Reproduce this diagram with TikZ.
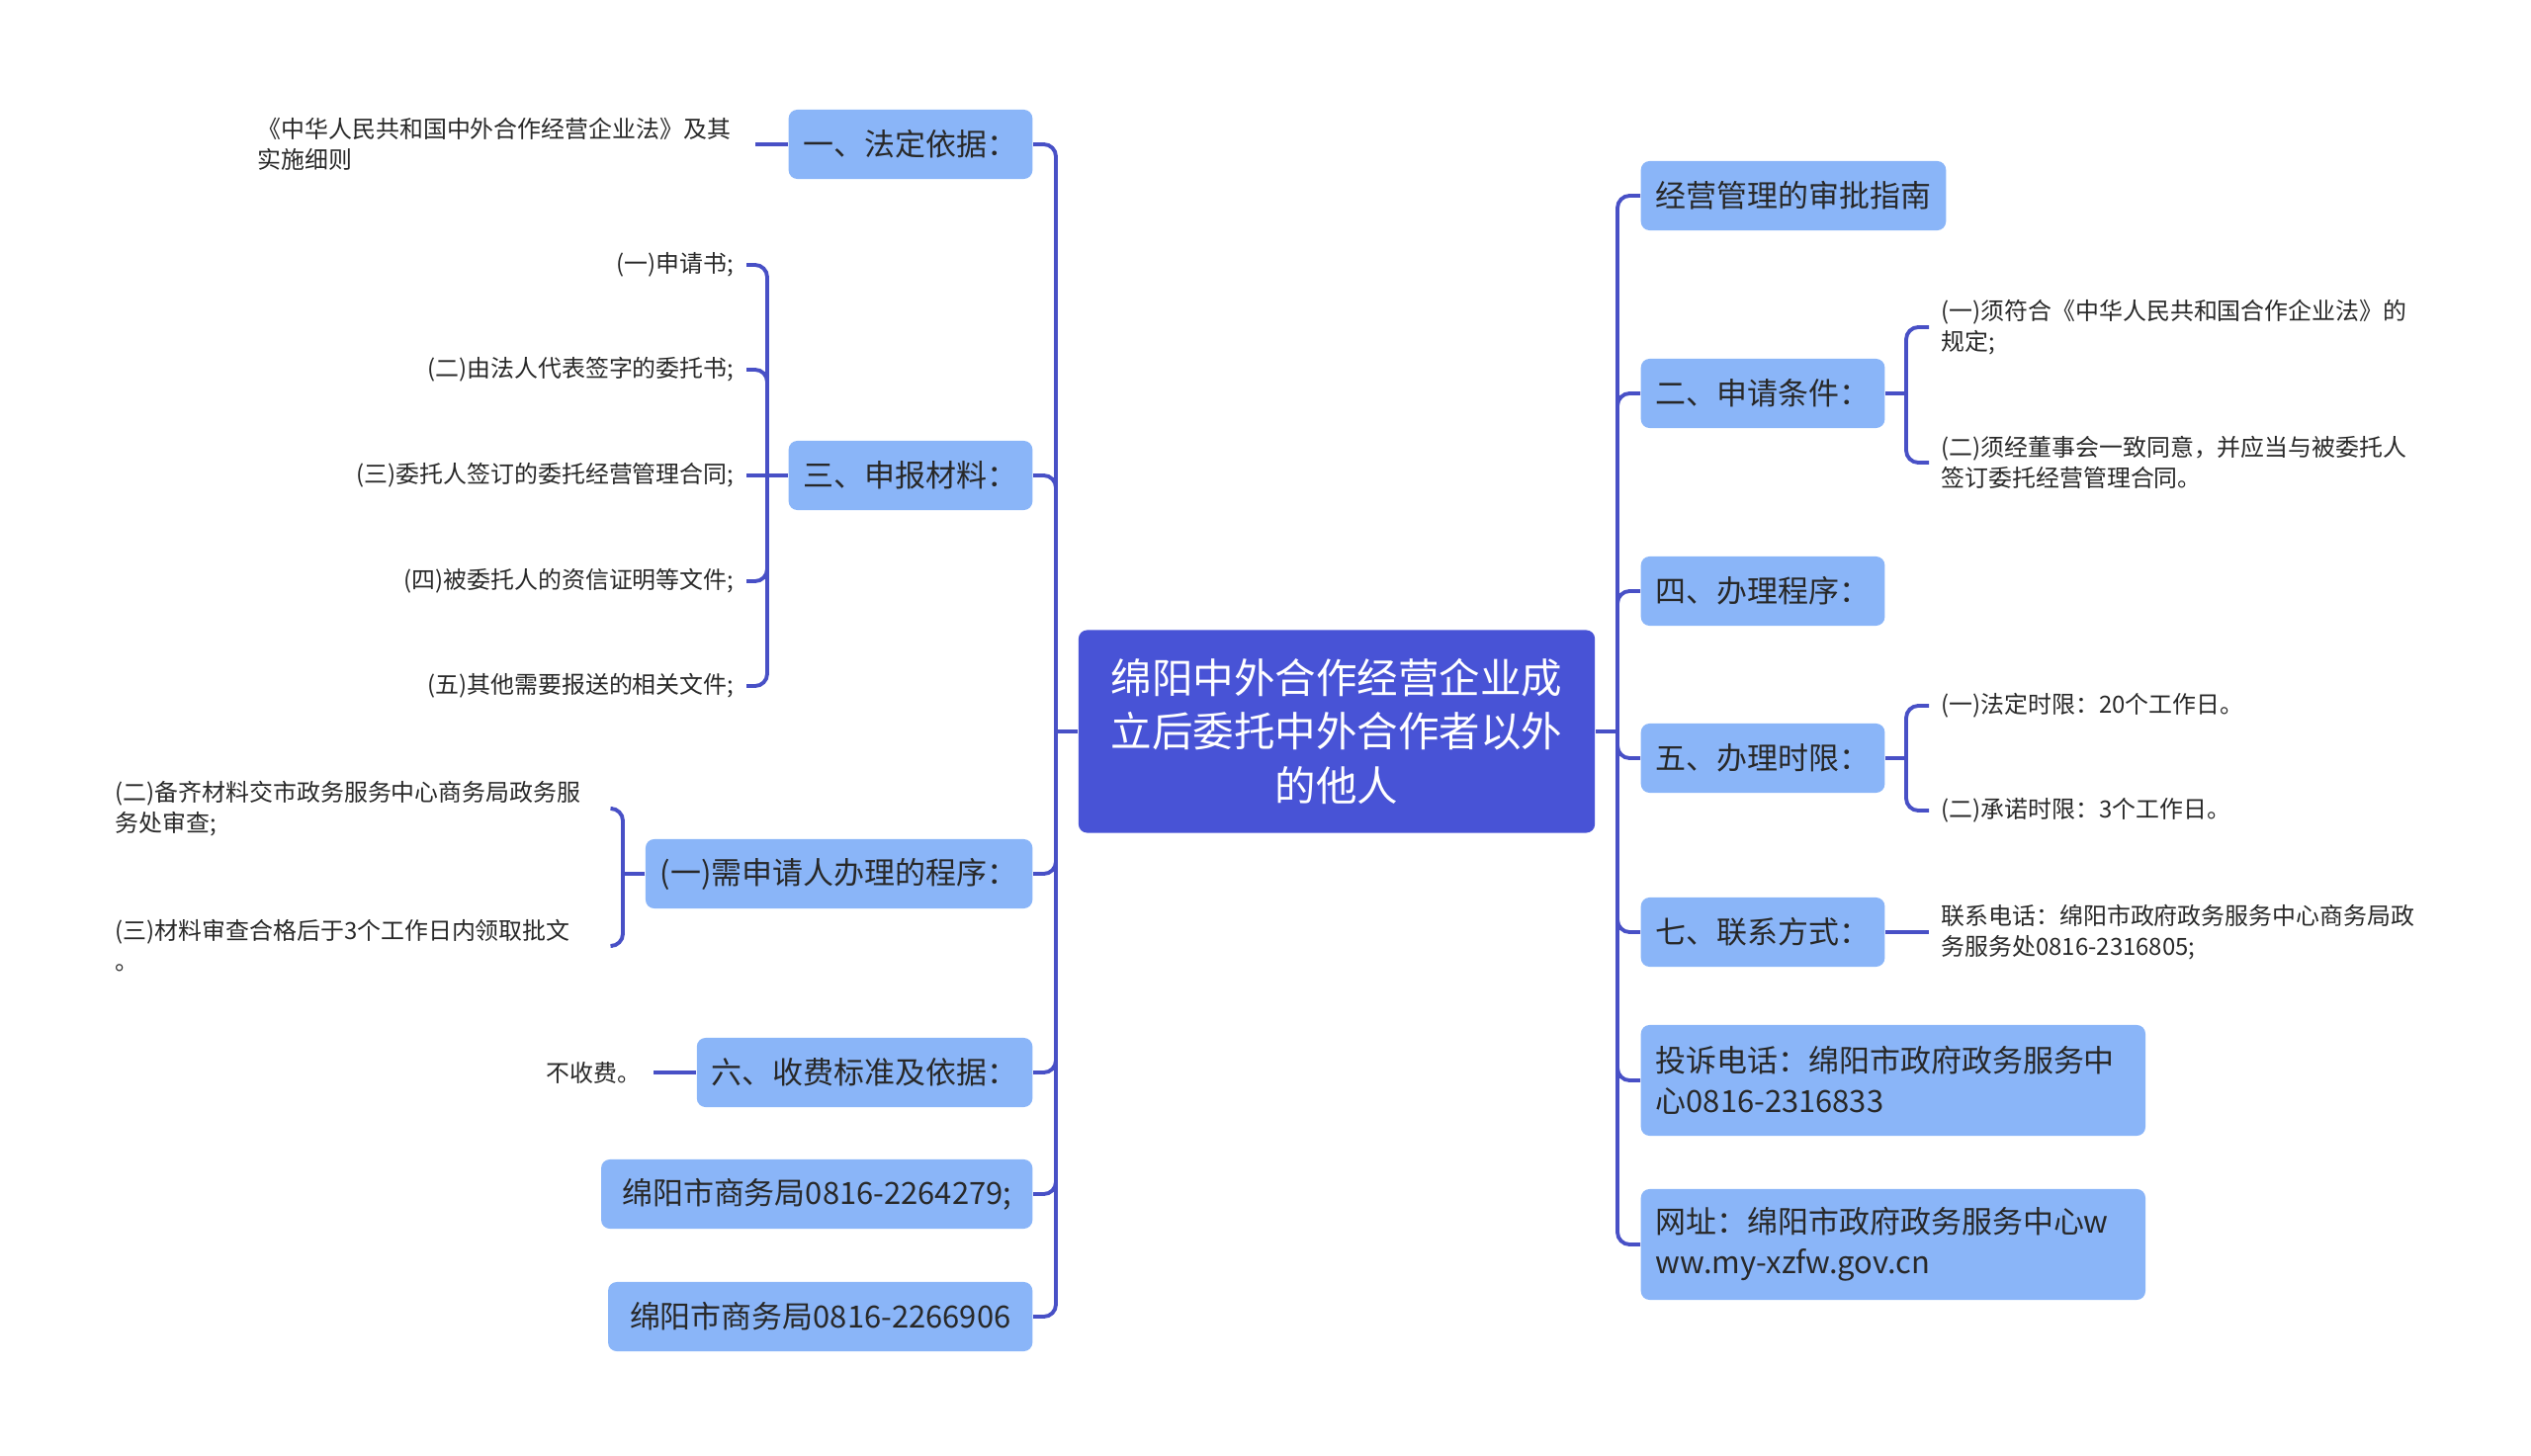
\documentclass[tikz,border=0pt]{standalone}
\usepackage{fontspec}
\setmainfont{Noto Sans CJK SC}
\usepackage{tikz}

\definecolor{rootblue}{RGB}{72,83,214}
\definecolor{topicblue}{RGB}{138,181,248}
\definecolor{linkblue}{RGB}{72,80,198}
\definecolor{inktext}{RGB}{40,40,40}

\begin{document}
\begin{tikzpicture}[x=0.01cm, y=-0.01cm,
    root/.style={fill=rootblue, rounded corners=2.5pt, text=white, align=center,
        minimum width=5.22cm, minimum height=2.05cm,
        font=\fontsize{11.8}{15.6}\selectfont},
    topic/.style={fill=topicblue, rounded corners=2.5pt, text=inktext, align=left,
        inner xsep=0.15cm, minimum height=0.7cm,
        font=\fontsize{8.8}{11.6}\selectfont},
    bigtopic/.style={topic, text width=4.8cm, minimum height=1.12cm},
    leaf/.style={text=inktext, inner xsep=0.12cm, inner ysep=0pt, align=left,
        font=\fontsize{6.8}{8.8}\selectfont},
    note/.style={leaf, text width=4.9cm},
    link/.style={linkblue, line width=1.1pt, rounded corners=3.5pt}]

    \useasboundingbox (0,0) rectangle (2560,1473);

    % Root
    \node[root] (root) at (1352,740) {绵阳中外合作经营企业成\\立后委托中外合作者以外\\的他人};
    \coordinate (jL) at (1068,740);
    \coordinate (jR) at (1636,740);
    \draw[link] (root.west) -- (jL);
    \draw[link] (root.east) -- (jR);

    % Left topics
    \node[topic, anchor=east] (basis) at (1045,146) {一、法定依据：};
    \node[topic, anchor=east] (materials) at (1045,481) {三、申报材料：};
    \node[topic, anchor=east] (steps) at (1045,884) {(一)需申请人办理的程序：};
    \node[topic, anchor=east] (fees) at (1045,1085) {六、收费标准及依据：};
    \node[topic, anchor=east, minimum width=4.36cm] (telA) at (1045,1208) {绵阳市商务局0816-2264279;};
    \node[topic, anchor=east, minimum width=4.29cm] (telB) at (1045,1332) {绵阳市商务局0816-2266906};
    \foreach \n in {basis, materials, steps, fees, telA, telB}
        \draw[link] (jL) |- (\n.east);

    % Right topics
    \node[topic, anchor=west] (guide) at (1659,198) {经营管理的审批指南};
    \node[topic, anchor=west] (terms) at (1659,398) {二、申请条件：};
    \node[topic, anchor=west] (process) at (1659,598) {四、办理程序：};
    \node[topic, anchor=west] (limits) at (1659,767) {五、办理时限：};
    \node[topic, anchor=west] (contact) at (1659,943) {七、联系方式：};
    \node[bigtopic, anchor=west] (complain) at (1659,1093) {投诉电话：绵阳市政府政务服务中\\心0816-2316833};
    \node[bigtopic, anchor=west] (website) at (1659,1259) {网址：绵阳市政府政务服务中心w\\ww.my-xzfw.gov.cn};
    \foreach \n in {guide, terms, process, limits, contact, complain, website}
        \draw[link] (jR) |- (\n.west);

    % Basis
    \node[note, anchor=west] (basisnote) at (248,146) {《中华人民共和国中外合作经营企业法》及其\\实施细则};
    \draw[link] (basis.west) -- (basisnote.east);

    % Materials
    \coordinate (jMat) at (776,481);
    \node[leaf, anchor=east] (matA) at (755,268) {(一)申请书;};
    \node[leaf, anchor=east] (matB) at (755,374) {(二)由法人代表签字的委托书;};
    \node[leaf, anchor=east] (matC) at (755,481) {(三)委托人签订的委托经营管理合同;};
    \node[leaf, anchor=east] (matD) at (755,588) {(四)被委托人的资信证明等文件;};
    \node[leaf, anchor=east] (matE) at (755,694) {(五)其他需要报送的相关文件;};
    \draw[link] (materials.west) -- (jMat);
    \draw[link] (jMat) -- (matC.east);
    \foreach \n in {matA, matB, matD, matE}
        \draw[link] (jMat) |- (\n.east);

    % Steps
    \coordinate (jStep) at (630,884);
    \node[note, anchor=west] (stepA) at (104,818) {(二)备齐材料交市政务服务中心商务局政务服\\务处审查;};
    \node[note, anchor=west] (stepB) at (104,957) {(三)材料审查合格后于3个工作日内领取批文\\。};
    \draw[link] (steps.west) -- (jStep);
    \draw[link] (jStep) |- (stepA.east);
    \draw[link] (jStep) |- (stepB.east);

    % Fees
    \node[leaf, anchor=east] (feenote) at (661,1085) {不收费。};
    \draw[link] (fees.west) -- (feenote.east);

    % Terms
    \coordinate (jTerm) at (1928,398);
    \node[note, anchor=west] (termA) at (1951,331) {(一)须符合《中华人民共和国合作企业法》的\\规定;};
    \node[note, anchor=west] (termB) at (1951,468) {(二)须经董事会一致同意，并应当与被委托人\\签订委托经营管理合同。};
    \draw[link] (terms.east) -- (jTerm);
    \draw[link] (jTerm) |- (termA.west);
    \draw[link] (jTerm) |- (termB.west);

    % Limits
    \coordinate (jLim) at (1928,767);
    \node[leaf, anchor=west] (limA) at (1951,714) {(一)法定时限：20个工作日。};
    \node[leaf, anchor=west] (limB) at (1951,820) {(二)承诺时限：3个工作日。};
    \draw[link] (limits.east) -- (jLim);
    \draw[link] (jLim) |- (limA.west);
    \draw[link] (jLim) |- (limB.west);

    % Contact
    \node[note, anchor=west] (contactnote) at (1951,943) {联系电话：绵阳市政府政务服务中心商务局政\\务服务处0816-2316805;};
    \draw[link] (contact.east) -- (contactnote.west);
\end{tikzpicture}
\end{document}
